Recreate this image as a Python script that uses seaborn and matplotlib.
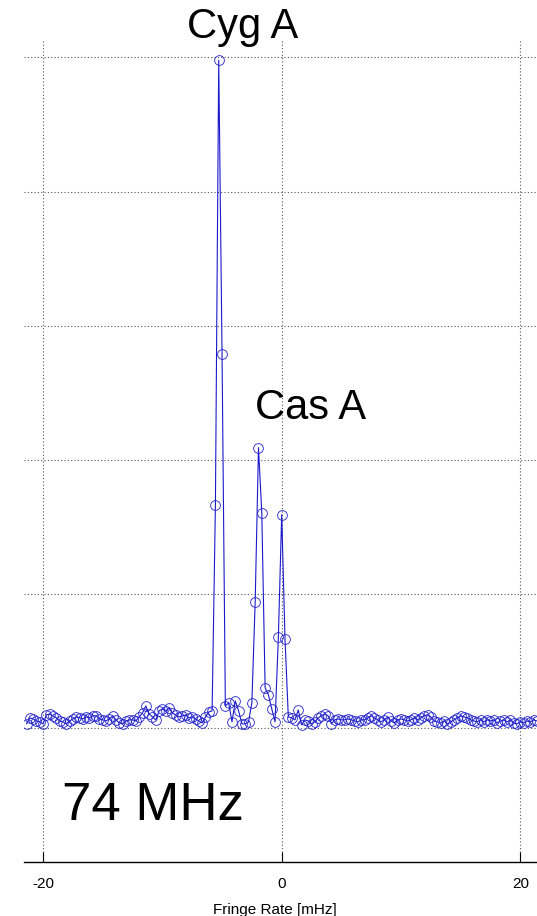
import numpy as np
import pandas as pd
import matplotlib
matplotlib.use("Agg")
import matplotlib.pyplot as plt
import seaborn as sns

# Fringe-rate spectrum at 74 MHz (1 h integration -> 1/3.6 mHz bins)
bin_width = 1 / 3.6          # mHz
bin_index = np.arange(-77, 78)

# amplitude, bins -77 .. -21
amp_left = [0.030, 0.075, 0.067, 0.052, 0.045, 0.030, 0.097, 0.104, 0.090, 0.075,
            0.052, 0.045, 0.030, 0.052, 0.067, 0.082, 0.075, 0.067, 0.082, 0.075,
            0.090, 0.090, 0.067, 0.060, 0.052, 0.067, 0.090, 0.060, 0.037, 0.030,
            0.052, 0.060, 0.060, 0.052, 0.082, 0.112, 0.164, 0.104, 0.082, 0.060,
            0.127, 0.142, 0.127, 0.149, 0.112, 0.097, 0.082, 0.090, 0.097, 0.075,
            0.082, 0.067, 0.052, 0.037, 0.082, 0.119, 0.127]
# amplitude, bins -20 .. 5 (Cyg A, Cas A and the zero-rate peak)
amp_sources = [1.66, 4.98, 2.79, 0.164, 0.187, 0.045, 0.201, 0.127, 0.030, 0.030,
               0.045, 0.187, 0.94, 2.09, 1.60, 0.299, 0.246, 0.142, 0.045, 0.679,
               1.59, 0.664, 0.082, 0.075, 0.060, 0.134]
# amplitude, bins 6 .. 77
amp_right = [0.022, 0.060, 0.052, 0.030, 0.045, 0.075, 0.090, 0.104, 0.090, 0.030,
             0.060, 0.067, 0.060, 0.060, 0.067, 0.060, 0.052, 0.045, 0.060, 0.060,
             0.075, 0.090, 0.075, 0.060, 0.045, 0.060, 0.082, 0.052, 0.037, 0.060,
             0.067, 0.060, 0.052, 0.060, 0.075, 0.060, 0.075, 0.090, 0.097, 0.082,
             0.052, 0.045, 0.037, 0.052, 0.030, 0.045, 0.060, 0.075, 0.090, 0.082,
             0.075, 0.060, 0.052, 0.045, 0.060, 0.045, 0.060, 0.052, 0.060, 0.037,
             0.052, 0.060, 0.045, 0.060, 0.037, 0.030, 0.045, 0.037, 0.052, 0.045,
             0.060, 0.052]

x_ticks = [-20, 0, 20]
y_grid = [0, 1, 2, 3, 4, 5]

df = pd.DataFrame({
    "rate": bin_index * bin_width,
    "amp": amp_left + amp_sources + amp_right,
})

sns.set_style("white")
plt.rcParams["font.family"] = ["Liberation Sans", "DejaVu Sans"]
plt.rcParams["text.color"] = "black"
plt.rcParams["axes.labelcolor"] = "black"
plt.rcParams["xtick.color"] = "black"

fig = plt.figure(figsize=(5.37, 9.16), dpi=100)
ax = fig.add_axes([24 / 537, 54 / 916, 1 - 24 / 537, 822 / 916])

sns.lineplot(data=df, x="rate", y="amp", ax=ax, color="#1a1acc",
             linewidth=0.8, marker="o", markersize=7,
             markerfacecolor="none", markeredgecolor="#2222cc",
             markeredgewidth=0.6, clip_on=True)

ax.set_xlim(-21.6, 21.4)
ax.set_ylim(-1.0, 5.13)

ax.set_xticks(x_ticks)
ax.set_xticklabels([str(t) for t in x_ticks])
ax.set_yticks(y_grid)
ax.set_yticklabels([])
ax.tick_params(axis="x", direction="in", length=7, width=0.8, color="black",
               labelcolor="black", labelsize=11, pad=11, bottom=True)
ax.tick_params(axis="y", length=0)

ax.grid(True, linestyle=(0, (1, 2)), color="#555555", linewidth=0.8)
ax.set_axisbelow(True)

for side in ["left", "top", "right"]:
    ax.spines[side].set_visible(False)
ax.spines["bottom"].set_color("black")
ax.spines["bottom"].set_linewidth(1.0)

ax.set_ylabel("")
ax.set_xlabel("Fringe Rate [mHz]", fontsize=11, color="black")
ax.xaxis.set_label_coords(0.489, -0.050)

fig.text(243 / 537, 1 - 38 / 916, "Cyg A", fontsize=30, ha="center",
         va="baseline", color="black")
fig.text(311 / 537, 1 - 419 / 916, "Cas A", fontsize=30, ha="center",
         va="baseline", color="black")
fig.text(153 / 537, 1 - 820 / 916, "74 MHz", fontsize=38, ha="center",
         va="baseline", color="black")

fig.savefig("out.png", dpi=100)
